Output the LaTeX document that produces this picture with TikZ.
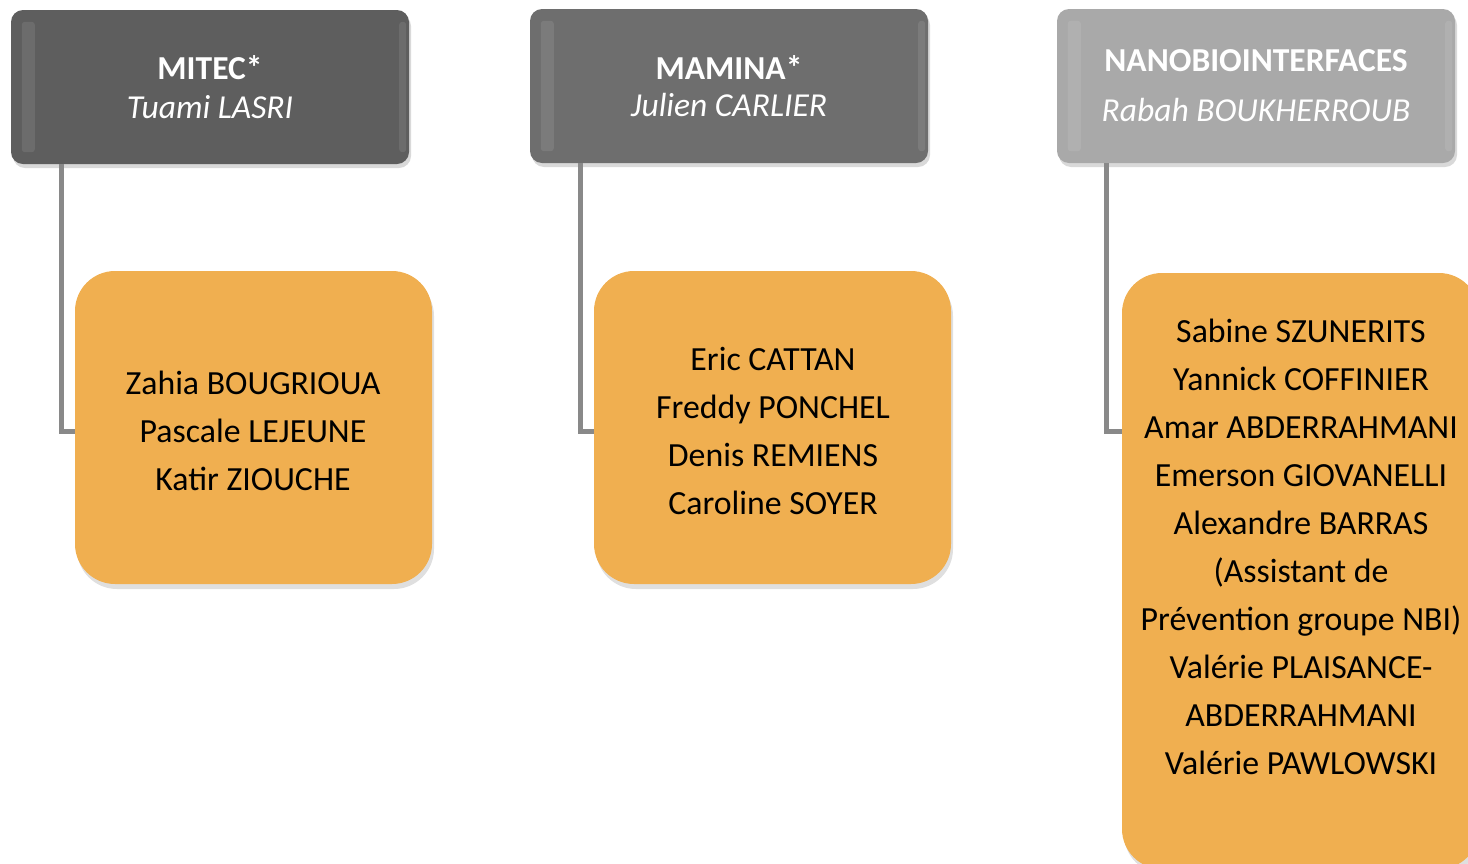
\documentclass[tikz,border=0pt]{standalone}
\usepackage{fontspec}
\setmainfont{Carlito}
\usetikzlibrary{shadows}
\definecolor{hdA}{HTML}{5E5E5E}
\definecolor{hdB}{HTML}{6E6E6E}
\definecolor{hdC}{HTML}{A9A9A9}
\definecolor{orangebox}{HTML}{F0AF50}
\definecolor{connc}{HTML}{898989}
\begin{document}
\begin{tikzpicture}[x=1pt,y=-1pt,
  header/.style={rounded corners=12pt, minimum width=398pt, minimum height=154pt,
    text=white, align=center, inner sep=0pt,
    drop shadow={opacity=0.3, shadow xshift=2pt, shadow yshift=-4pt}},
  member/.style={rounded corners=40pt, fill=orangebox, minimum width=357pt,
    inner sep=0pt,
    drop shadow={opacity=0.25, shadow xshift=2pt, shadow yshift=-5pt}},
  bodytext/.style={align=center, inner sep=0pt, font=\fontsize{33.8}{48}\selectfont},
  bevel/.style={fill=white, opacity=0.09, rounded corners=3pt},
  conn/.style={draw=connc, line width=5pt}]
\useasboundingbox (0,0) rectangle (1468,863);
\clip (0,0) rectangle (1468,863);

% headers
\node[header, fill=hdA, font=\fontsize{33.5}{39}\selectfont] (h1) at (210,87)
  {\textbf{MITEC*}\\\textit{Tuami LASRI}};
\node[header, fill=hdB, font=\fontsize{33.5}{37}\selectfont] (h2) at (729,86)
  {\textbf{MAMINA*}\\\textit{Julien CARLIER}};
\node[header, fill=hdC, font=\fontsize{33.5}{50}\selectfont] (h3) at (1256,86)
  {\textbf{NANOBIOINTERFACES}\\\textit{Rabah BOUKHERROUB}};

% bevel highlights
\foreach \h in {h1,h2,h3}{
  \fill[bevel] ([xshift=11pt,yshift=-12pt]\h.north west) rectangle ([xshift=24pt,yshift=12pt]\h.south west);
  \fill[bevel] ([xshift=-10pt,yshift=-12pt]\h.north east) rectangle ([xshift=-3pt,yshift=12pt]\h.south east);
}

% connectors
\draw[conn] ([xshift=51pt]h1.south west) |- (75,431) coordinate (e1);
\draw[conn] ([xshift=51pt]h2.south west) |- (594,431) coordinate (e2);
\draw[conn] ([xshift=50pt]h3.south west) |- (1122,431) coordinate (e3);

% member boxes
\node[member, minimum height=313pt] (c1) at (253.5,427.5) {};
\node[bodytext] (t1) at (253,430.5)
  {Zahia BOUGRIOUA\\Pascale LEJEUNE\\Katir ZIOUCHE};
\node[member, minimum height=313pt] (c2) at (772.5,427.5) {};
\node[bodytext] (t2) at (773,430.5)
  {Eric CATTAN\\Freddy PONCHEL\\Denis REMIENS\\Caroline SOYER};
\node[member, minimum height=596pt] (c3) at (1300.5,571) {};
\node[bodytext] (t3) at (1301,547)
  {Sabine SZUNERITS\\Yannick COFFINIER\\Amar ABDERRAHMANI\\Emerson GIOVANELLI\\Alexandre BARRAS\\(Assistant de\\Prévention groupe NBI)\\Valérie PLAISANCE-\\ABDERRAHMANI\\Valérie PAWLOWSKI};
\end{tikzpicture}
\end{document}
